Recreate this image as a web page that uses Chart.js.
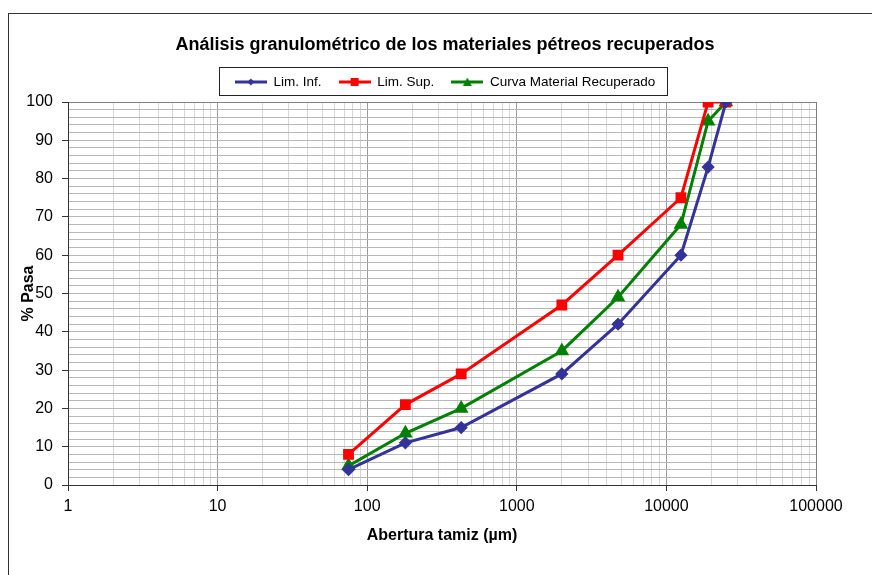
<!DOCTYPE html>
<html>
<head>
<meta charset="utf-8">
<script src="https://cdn.jsdelivr.net/npm/chart.js@4.4.1/dist/chart.umd.min.js"></script>
<style>
  html, body { margin: 0; padding: 0; background: #fff; overflow: hidden; }
  #wrap { position: relative; width: 872px; height: 575px; }
  #frame { position: absolute; left: 8px; top: 13px; width: 900px; height: 600px; border: 1px solid #333; }
  #myChart { position: absolute; left: 0; top: 0; }
</style>
</head>
<body>
<div id="wrap">
  <div id="frame"></div>
  <canvas id="myChart" width="872" height="575"></canvas>
</div>
<script>
// sieve openings (µm) and % passing
var sieves = [75, 180, 425, 2000, 4750, 12500, 19000, 25000];
var limInf = [4, 11, 15, 29, 42, 60, 83, 100];
var limSup = [8, 21, 29, 47, 60, 75, 100, 100];
var curva = [5, 13.5, 20, 35, 49, 68, 95, 100];
var seriesNames = ["Lim. Inf.", "Lim. Sup.", "Curva Material Recuperado"];
var xTickLabels = [1, 10, 100, 1000, 10000, 100000];
var yTickLabels = [0, 10, 20, 30, 40, 50, 60, 70, 80, 90, 100];

function toPoints(ys) {
  var pts = [];
  for (let i = 0; i < sieves.length; i++) {
    pts.push({ x: sieves[i], y: ys[i] });
  }
  return pts;
}

// 1..9 in every decade, like the Excel minor grid
function logTicks() {
  var t = [];
  for (let d = 0; d < xTickLabels.length - 1; d++) {
    for (let k = 1; k < 10; k++) {
      t.push({ value: k * xTickLabels[d] });
    }
  }
  t.push({ value: xTickLabels[xTickLabels.length - 1] });
  return t;
}

// little legend symbol: line with marker in the middle
function legendSymbol(color, shape) {
  var c = document.createElement("canvas");
  c.width = 32;
  c.height = 12;
  var g = c.getContext("2d");
  g.strokeStyle = color;
  g.fillStyle = color;
  g.lineWidth = 3;
  g.beginPath();
  g.moveTo(0, 6);
  g.lineTo(32, 6);
  g.stroke();
  g.beginPath();
  if (shape === "rect") {
    g.rect(12, 2, 8, 8);
  } else if (shape === "rectRot") {
    g.moveTo(16, 2.5); g.lineTo(19.5, 6); g.lineTo(16, 9.5); g.lineTo(12.5, 6);
  } else {
    g.moveTo(16, 1.5); g.lineTo(20.5, 10); g.lineTo(11.5, 10);
  }
  g.closePath();
  g.fill();
  return c;
}

var symbols = [
  legendSymbol("#333399", "rectRot"),
  legendSymbol("#FF0000", "rect"),
  legendSymbol("#008000", "triangle"),
];

var legendBoxPlugin = {
  id: "legendBox",
  beforeLayout(chart) {
    var lg = chart.legend;
    if (lg && !lg._patched) {
      var f = lg.fit;
      lg.fit = function () {
        f.call(this);
        this.height += 3.25;
      };
      lg._patched = true;
    }
  },
  afterDraw(chart) {
    var lg = chart.legend;
    if (!lg || !lg.legendHitBoxes.length) return;
    var hb = lg.legendHitBoxes;
    var left = hb[0].left - 16;
    var last = hb[hb.length - 1];
    var right = last.left + last.width + 12;
    var top = hb[0].top - 8;
    var ctx = chart.ctx;
    ctx.save();
    ctx.strokeStyle = "#222";
    ctx.lineWidth = 1;
    ctx.strokeRect(Math.round(left) + 0.5, Math.round(top) + 0.5, Math.round(right - left), 28);
    ctx.restore();
  },
};

const ctx = document.getElementById("myChart").getContext("2d");
const data = {
  datasets: [
    {
      label: seriesNames[0],
      data: toPoints(limInf),
      borderColor: "#333399",
      backgroundColor: "#333399",
      borderWidth: 3,
      pointStyle: "rectRot",
      pointRadius: 4.5,
      pointHoverRadius: 4.5,
    },
    {
      label: seriesNames[1],
      data: toPoints(limSup),
      borderColor: "#FF0000",
      backgroundColor: "#FF0000",
      borderWidth: 3,
      pointStyle: "rect",
      pointRadius: 5.5,
      pointHoverRadius: 5.5,
    },
    {
      label: seriesNames[2],
      data: toPoints(curva),
      borderColor: "#008000",
      backgroundColor: "#008000",
      borderWidth: 3,
      pointStyle: "triangle",
      pointRadius: 5.5,
      pointHoverRadius: 5.5,
    },
  ],
};

const config = {
  type: "line",
  data: data,
  options: {
    responsive: false,
    animation: false,
    events: [],
    layout: { padding: { left: 18, right: 0, top: 0, bottom: 0 } },
    plugins: {
      title: {
        display: true,
        text: "Análisis granulométrico de los materiales pétreos recuperados",
        color: "#000",
        font: { family: "Liberation Sans, Arial", size: 18, weight: "bold" },
        padding: { top: 34.2, bottom: 2.45 },
      },
      legend: {
        display: true,
        labels: {
          color: "#000",
          font: { family: "Liberation Sans, Arial", size: 13.5 },
          usePointStyle: true,
          pointStyleWidth: 32,
          padding: 17,
          generateLabels: function (chart) {
            return chart.data.datasets.map(function (ds, i) {
              return {
                text: ds.label,
                pointStyle: symbols[i],
                fillStyle: ds.backgroundColor,
                strokeStyle: ds.borderColor,
                lineWidth: 0,
                hidden: false,
                datasetIndex: i,
              };
            });
          },
        },
      },
      tooltip: { enabled: false },
    },
    scales: {
      x: {
        type: "logarithmic",
        min: xTickLabels[0],
        max: xTickLabels[xTickLabels.length - 1],
        afterFit: function (scale) { scale.height = 90; },
        afterBuildTicks: function (scale) { scale.ticks = logTicks(); },
        title: {
          display: true,
          text: "Abertura tamiz (µm)",
          color: "#000",
          font: { family: "Liberation Sans, Arial", size: 16, weight: "bold" },
          padding: { top: 0, bottom: 29.4 },
        },
        ticks: {
          autoSkip: false,
          maxRotation: 0,
          color: "#000",
          padding: 6,
          font: { family: "Liberation Sans, Arial", size: 16 },
          callback: function (value) {
            return xTickLabels.indexOf(value) >= 0 ? String(value) : "";
          },
        },
        grid: {
          tickLength: 6,
          color: function (c) {
            var v = c.tick ? c.tick.value : 0;
            if (v === 100000) return "#808080";
            return xTickLabels.indexOf(v) >= 0 ? "#9a9a9a" : "#d6d6d6";
          },
          tickColor: function (c) {
            var v = c.tick ? c.tick.value : 0;
            return xTickLabels.indexOf(v) >= 0 ? "#333" : "rgba(0,0,0,0)";
          },
        },
        border: { color: "#333", width: 1 },
      },
      y: {
        min: 0,
        max: 100,
        afterFit: function (scale) { scale.width = 50; },
        title: {
          display: true,
          text: "% Pasa",
          color: "#000",
          font: { family: "Liberation Sans, Arial", size: 16, weight: "bold" },
          padding: { top: 1.4, bottom: 0 },
        },
        ticks: {
          stepSize: 2,
          autoSkip: false,
          color: "#000",
          padding: 9,
          font: { family: "Liberation Sans, Arial", size: 16 },
          callback: function (value) {
            return yTickLabels.indexOf(value) >= 0 ? String(value) : "";
          },
        },
        grid: {
          tickLength: 6,
          color: function (c) {
            var v = c.tick ? c.tick.value : 0;
            return v === 100 ? "#808080" : "#b8b8b8";
          },
          tickColor: function (c) {
            var v = c.tick ? c.tick.value : 0;
            return yTickLabels.indexOf(v) >= 0 ? "#333" : "rgba(0,0,0,0)";
          },
        },
        border: { color: "#333", width: 1 },
      },
      // empty right-hand box so the plot ends where the original does
      yRight: {
        position: "right",
        display: true,
        afterFit: function (scale) { scale.width = 56; },
        grid: { display: false, drawTicks: false },
        border: { display: false },
        ticks: { display: false },
      },
    },
  },
  plugins: [legendBoxPlugin],
};

const myChart = new Chart(ctx, config);
</script>
</body>
</html>
